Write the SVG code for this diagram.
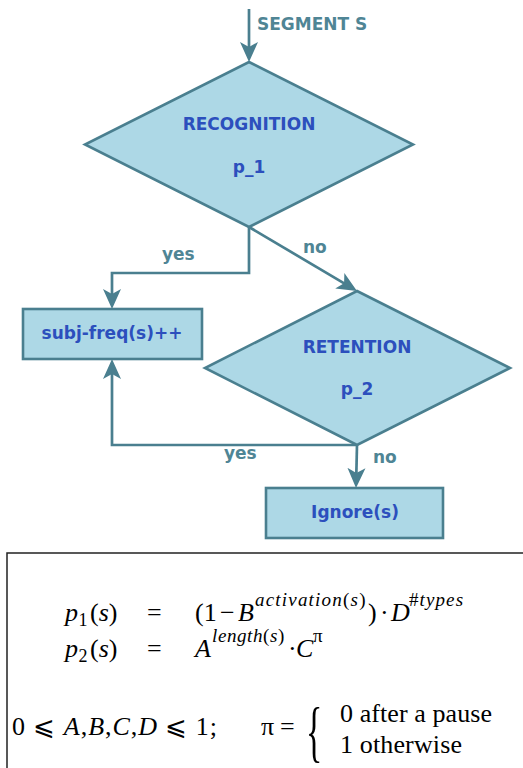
<svg xmlns="http://www.w3.org/2000/svg" width="523" height="768" viewBox="0 0 523 768">
<style>
.shape{fill:#add8e6;stroke:#4a7f8f;stroke-width:2.6}
.edge{fill:none;stroke:#4a7f8f;stroke-width:2.7;marker-end:url(#arr)}
.nt{font-family:"DejaVu Sans",sans-serif;font-weight:bold;font-size:17px;fill:#2c4fbd;text-anchor:middle}
.lb{font-family:"DejaVu Sans",sans-serif;font-weight:bold;font-size:17px;fill:#4f8595}
.m{font-family:"Liberation Serif","DejaVu Serif",serif;font-size:26px;fill:#000}
.s{font-size:19px}
.sb{font-size:18px}
.i{font-style:italic}
</style>
<defs>
<marker id="arr" markerUnits="userSpaceOnUse" markerWidth="22" markerHeight="20" viewBox="0 -10 22 20" refX="12" refY="0" orient="auto">
<path d="M0,-9 L20,0 L0,9 L5,0 Z" fill="#4a7f8f"/>
</marker>
</defs>
<g id="connectors">
<path class="edge" d="M249,9 V54"/>
<path class="edge" d="M249,227 V273 H112 V301"/>
<path class="edge" d="M249,227 L350.1,286.9"/>
<path class="edge" d="M357,445 H112 V367"/>
<path class="edge" d="M357,445 L356.2,480"/>
<text class="lb" x="257" y="30">SEGMENT S</text>
<text class="lb" x="162" y="260">yes</text>
<text class="lb" x="303" y="253">no</text>
<text class="lb" x="224" y="459">yes</text>
<text class="lb" x="373" y="463">no</text>
</g>
<g id="recognition">
<polygon class="shape" points="249,62 413,144.5 249,227 85,144.5"/>
<text class="nt" x="249" y="130">RECOGNITION</text>
<text class="nt" x="249" y="173">p_1</text>
</g>
<g id="subjfreq">
<rect class="shape" x="23" y="309" width="179" height="50"/>
<text class="nt" x="112" y="339">subj-freq(s)++</text>
</g>
<g id="retention">
<polygon class="shape" points="357,291 510,368 357,445 205,368"/>
<text class="nt" x="357" y="353">RETENTION</text>
<text class="nt" x="357" y="395">p_2</text>
</g>
<g id="ignore">
<rect class="shape" x="266" y="488" width="177" height="50"/>
<text class="nt" x="355" y="518">Ignore(s)</text>
</g>
<g id="formulas">
<path d="M7,772 V553 H526" fill="none" stroke="#222" stroke-width="1.5"/>
<text class="m" y="621"><tspan x="65" class="i">p</tspan><tspan x="78.5" y="626" class="sb">1</tspan><tspan x="90" y="621">(</tspan><tspan class="i">s</tspan><tspan>)</tspan><tspan x="147">=</tspan><tspan x="195">(1</tspan><tspan x="220">−</tspan><tspan x="238" class="i">B</tspan><tspan x="255" y="606" class="s" style="letter-spacing:1.2px"><tspan class="i">activation</tspan>(<tspan class="i">s</tspan>)</tspan><tspan x="368" y="621">)</tspan><tspan x="380">·</tspan><tspan x="391" class="i">D</tspan><tspan x="409" y="606" class="s" style="letter-spacing:1.1px">#<tspan class="i">types</tspan></tspan></text>
<text class="m" y="657"><tspan x="65" class="i">p</tspan><tspan x="78.5" y="662" class="sb">2</tspan><tspan x="90" y="657">(</tspan><tspan class="i">s</tspan><tspan>)</tspan><tspan x="147">=</tspan><tspan x="195" class="i">A</tspan><tspan x="212" y="642" class="s" style="letter-spacing:0.6px"><tspan class="i">length</tspan>(<tspan class="i">s</tspan>)</tspan><tspan x="288" y="657">·</tspan><tspan x="296" class="i">C</tspan><tspan x="313" y="642" class="s">π</tspan></text>
<text class="m" x="12" y="735" textLength="205" lengthAdjust="spacing">0 ⩽ <tspan class="i">A</tspan>,<tspan class="i">B</tspan>,<tspan class="i">C</tspan>,<tspan class="i">D</tspan> ⩽ 1;</text>
<text class="m" y="735"><tspan x="261">π</tspan><tspan x="280">=</tspan></text>
<text class="m" x="0" y="0" transform="translate(306,754) scale(0.5,1)" style="font-size:68px">{</text>
<text class="m" x="340" y="722" textLength="152" lengthAdjust="spacing">0 after a pause</text>
<text class="m" x="340" y="753" textLength="122" lengthAdjust="spacing">1 otherwise</text>
</g>
</svg>
